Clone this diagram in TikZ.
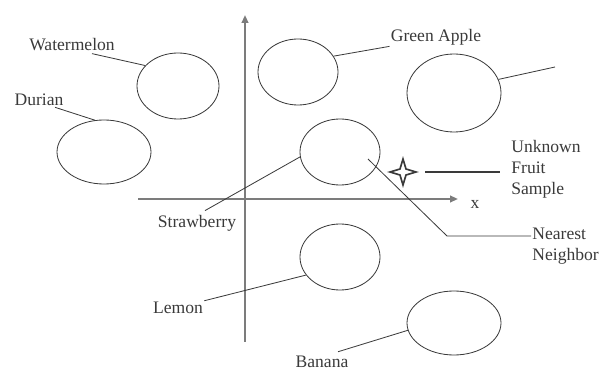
\documentclass[tikz,border=0pt]{standalone}
\usepackage{fontspec}
\setmainfont{Liberation Serif}
\usepackage{tikz}
\usetikzlibrary{arrows.meta,positioning,calc,shapes.geometric}
\usepackage{xcolor}
\definecolor{Ink}{HTML}{3A3A3A}
\definecolor{AxisGray}{HTML}{7C7C7C}

\begin{document}
\begin{tikzpicture}[x=0.03cm,y=-0.03cm,
  fruit/.style={draw=Ink,ellipse,line width=0.7pt,inner sep=0pt},
  tag/.style={text=Ink,font=\fontsize{15}{18}\selectfont,inner sep=1pt},
  lead/.style={draw=Ink,line width=0.7pt},
  axis/.style={draw=AxisGray,line width=1.6pt,-{Triangle[length=0.24cm,width=0.2cm]}}
]
  \useasboundingbox (0,0) rectangle (607,371);

  % axes
  \coordinate (yfoot) at (245,342);
  \coordinate (ytip) at (245,15);
  \coordinate (xfoot) at (138,199);
  \coordinate (xtip) at (458,199);
  \draw[axis] (yfoot) -- (ytip);
  \draw[axis] (xfoot) -- (xtip);
  \node[tag] (xl) at (475,204) {x};

  % fruit clusters
  \node[fruit,minimum width=2.46cm,minimum height=1.98cm] (watermelon) at (178,86) {};
  \node[fruit,minimum width=2.82cm,minimum height=1.92cm] (durian) at (104,152) {};
  \node[fruit,minimum width=2.40cm,minimum height=1.98cm] (greenapple) at (298,72) {};
  \node[fruit,minimum width=2.82cm,minimum height=2.34cm] (unnamed) at (454,93) {};
  \node[fruit,minimum width=2.40cm,minimum height=1.98cm] (strawberry) at (340,152) {};
  \node[fruit,minimum width=2.40cm,minimum height=1.98cm] (lemon) at (340,257) {};
  \node[fruit,minimum width=2.82cm,minimum height=1.92cm] (banana) at (454,323) {};

  % unknown sample
  \coordinate (sample) at (403,172);
  \draw[Ink,line width=1.4pt,fill=white,line join=miter,shift={(sample)}]
    (0,-13) -- (3,-3) -- (13,0) -- (3,3) -- (0,13) -- (-3,3) -- (-13,0) -- (-3,-3) -- cycle;

  % labels
  \node[tag] (wml) at (72,45) {Watermelon};
  \node[tag] (dul) at (39,100) {Durian};
  \node[tag] (gal) at (436,37) {Green Apple};
  \node[tag] (stl) at (197,223) {Strawberry};
  \node[tag] (lel) at (178,308) {Lemon};
  \node[tag] (bal) at (322,362) {Banana};
  \node[tag,align=left,anchor=west] (ukl) at (510,169) {Unknown\\Fruit\\Sample};
  \node[tag,align=left,anchor=west] (nnl) at (531,246) {Nearest\\Neighbor};

  % leader lines
  \coordinate (tr-end) at (555,67);
  \coordinate (nnbend) at (447,236);
  \draw[lead] ($(wml.south)+(20,1)$) -- (watermelon.148);
  \draw[lead] ($(dul.south)+(16,0)$) -- (durian.106);
  \draw[lead] (gal.south west) -- (greenapple.24);
  \draw[lead] (unnamed.17) -- (tr-end);
  \draw[lead] ($(stl.north)+(8,-3)$) -- (strawberry.187);
  \draw[lead] ($(strawberry.center)+(28,7)$) -- (nnbend) -- (nnl.west |- nnbend);
  \draw[lead,line width=1pt,shorten <=0.66cm,shorten >=0.3cm] (sample) -- (ukl.west |- sample);
  \draw[lead] (lel.north east) -- (lemon.208);
  \draw[lead] ($(bal.north)+(16,-3)$) -- (banana.189);
\end{tikzpicture}
\end{document}
